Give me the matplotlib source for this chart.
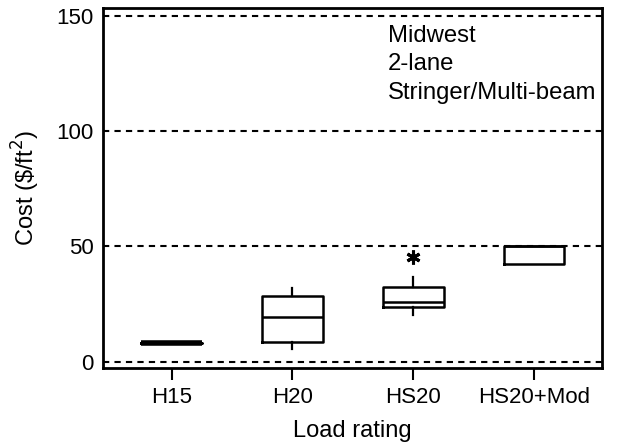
import matplotlib.pyplot as plt

plt.rcParams['font.family'] = ['Liberation Sans', 'DejaVu Sans']

# Box-plot summary per load rating ($/ft^2)
ratings = ['H15', 'H20', 'HS20', 'HS20+Mod']
medians = [8.1, 19.3, 25.9, 50.0]
q1 = [8.1, 8.4, 23.6, 42.2]
q3 = [8.1, 28.6, 32.2, 50.0]
whis_lo = [8.1, 5.6, 20.3, 42.2]
whis_hi = [8.1, 31.9, 36.8, 50.0]
outliers = [[], [], [45.3], []]

notes = ['Midwest', '2-lane', 'Stringer/Multi-beam']

stats = []
for i, name in enumerate(ratings):
    stats.append({'label': name, 'med': medians[i], 'q1': q1[i], 'q3': q3[i],
                  'whislo': whis_lo[i], 'whishi': whis_hi[i], 'fliers': outliers[i]})

fig = plt.figure(figsize=(6.18, 4.43), dpi=100)
ax = fig.add_axes([0.167, 0.169, 0.807, 0.813])

for y in [0, 50, 100, 150]:
    ax.axhline(y, color='black', lw=1.5, ls=(0, (3, 2.5)), zorder=1)

ax.bxp(stats, positions=[1, 2, 3, 4], widths=0.5, showcaps=False,
       boxprops=dict(color='black', lw=1.8),
       medianprops=dict(color='black', lw=1.8),
       whiskerprops=dict(color='black', lw=1.6),
       flierprops=dict(marker=(6, 2, 0), markersize=10, markeredgewidth=2.2,
                       markeredgecolor='black'))

# H15 has no spread, draw it as a bold bar
ax.hlines(medians[0], 1 - 0.25, 1 + 0.25, color='black', lw=4, zorder=3)

ax.set_xlim(0.435, 4.56)
ax.set_ylim(-2.8, 153.5)
ax.set_yticks([0, 50, 100, 150])
ax.set_xticks([1, 2, 3, 4])
ax.set_xticklabels(ratings)
ax.tick_params(axis='y', length=0, pad=7, labelsize=16)
ax.tick_params(axis='x', length=8.5, width=1.5, pad=5, labelsize=16, direction='out')
for sp in ax.spines.values():
    sp.set_linewidth(2)

ax.set_xlabel('Load rating', fontsize=17, labelpad=9)
ax.set_ylabel(r'Cost (\$/ft$^2$)', fontsize=17, labelpad=10)

# stacked notes in the upper right corner
for k, line in enumerate(notes):
    ax.text(2.79, 138.8 - 12.3 * k, line, ha='left', va='baseline', fontsize=17.2)

fig.savefig('out.png', dpi=100)
